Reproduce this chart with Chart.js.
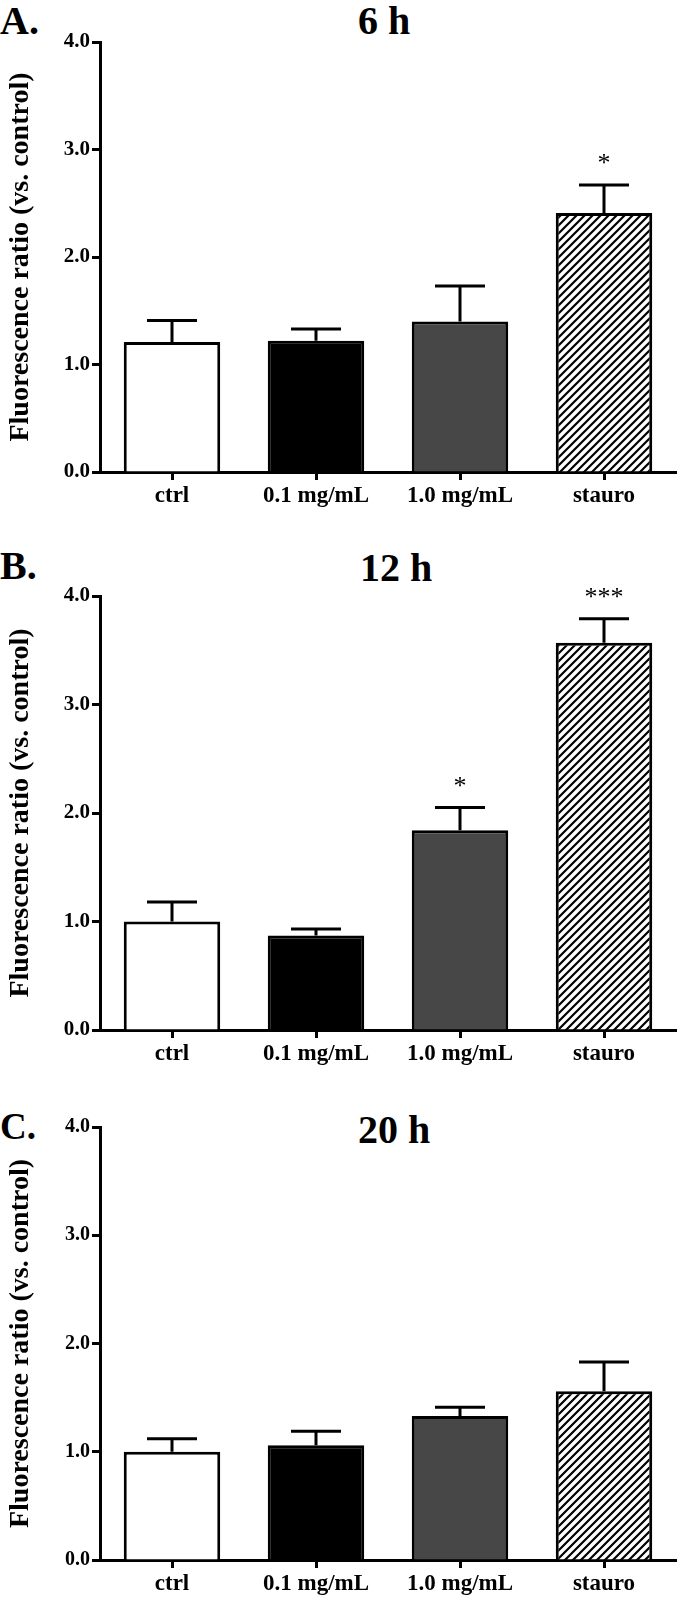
<!DOCTYPE html>
<html>
<head>
<meta charset="utf-8">
<script src="https://cdn.jsdelivr.net/npm/chart.js@4.4.1/dist/chart.umd.min.js"></script>
<style>
  body { margin: 0; background: #fff; width: 680px; height: 1598px; position: relative; overflow: hidden; }
  .panel { position: absolute; left: 0; width: 680px; }
  .lbl { position: absolute; font-family: "Liberation Serif", serif; font-weight: bold; font-size: 40px; line-height: 1; color: #000; white-space: nowrap; }
</style>
</head>
<body>
<div class="lbl" style="left:0px;top:1px;">A.</div>
<div class="lbl" style="left:358px;top:1px;">6 h</div>
<div class="lbl" style="left:0px;top:546px;">B.</div>
<div class="lbl" style="left:360px;top:548px;">12 h</div>
<div class="lbl" style="left:0px;top:1108px;font-size:37px;">C.</div>
<div class="lbl" style="left:358px;top:1110px;">20 h</div>

<div class="panel" style="top:0px;height:540px;"><canvas id="chartA"></canvas></div>
<div class="panel" style="top:540px;height:545px;"><canvas id="chartB"></canvas></div>
<div class="panel" style="top:1085px;height:513px;"><canvas id="chartC"></canvas></div>

<script>
// groups and y ticks
const groups = ['ctrl', '0.1 mg/mL', '1.0 mg/mL', 'stauro'];
const yTicks = [0, 1, 2, 3, 4];

// 6 h
const mean6h = [1.21, 1.22, 1.40, 2.41];
const sem6h = [0.20, 0.11, 0.33, 0.26];
const sig6h = ['', '', '', '*'];

// 12 h
const mean12h = [1.00, 0.87, 1.84, 3.57];
const sem12h = [0.18, 0.06, 0.21, 0.22];
const sig12h = ['', '', '*', '***'];

// 20 h
const mean20h = [1.00, 1.06, 1.33, 1.56];
const sem20h = [0.12, 0.13, 0.08, 0.27];
const sig20h = ['', '', '', ''];

const serif = '"Liberation Serif", "Times New Roman", serif';

function hatch() {
    const c = document.createElement('canvas');
    c.width = 8; c.height = 8;
    const g = c.getContext('2d');
    g.fillStyle = '#fff';
    g.fillRect(0, 0, 8, 8);
    g.strokeStyle = '#000';
    g.lineWidth = 2.2;
    g.beginPath();
    g.moveTo(-2, 10); g.lineTo(10, -2);
    g.moveTo(-2, 2); g.lineTo(2, -2);
    g.moveTo(6, 10); g.lineTo(10, 6);
    g.stroke();
    return g.createPattern(c, 'repeat');
}

// upper error bars + asterisks
const errorBars = {
    id: 'errorBars',
    afterDatasetsDraw(chart, args, opts) {
        const ctx = chart.ctx;
        const y = chart.scales.y;
        const meta = chart.getDatasetMeta(0);
        const vals = chart.data.datasets[0].data;
        ctx.save();
        ctx.strokeStyle = '#000';
        ctx.lineWidth = 3;
        meta.data.forEach((bar, i) => {
            const top = y.getPixelForValue(vals[i]);
            const cap = y.getPixelForValue(vals[i] + opts.err[i]);
            ctx.beginPath();
            ctx.moveTo(bar.x, top);
            ctx.lineTo(bar.x, cap);
            ctx.moveTo(bar.x - 25, cap);
            ctx.lineTo(bar.x + 25, cap);
            ctx.stroke();
            if (opts.sig[i]) {
                ctx.fillStyle = '#000';
                ctx.font = '26px ' + serif;
                ctx.textAlign = 'center';
                ctx.textBaseline = 'alphabetic';
                ctx.fillText(opts.sig[i], bar.x, cap - 14);
            }
        });
        ctx.restore();
    }
};

function makePanel(id, values, errs, sig, p) {
    new Chart(document.getElementById(id), {
        type: 'bar',
        data: {
            labels: groups,
            datasets: [{
                data: values,
                backgroundColor: ['#ffffff', '#000000', '#474747', hatch()],
                borderColor: '#000',
                borderWidth: 3,
                borderSkipped: 'bottom',
                categoryPercentage: 1,
                barPercentage: 0.67
            }]
        },
        options: {
            responsive: true,
            maintainAspectRatio: false,
            animation: false,
            events: [],
            layout: { padding: { top: p.top, right: 4, left: 0, bottom: 0 } },
            plugins: {
                legend: { display: false },
                tooltip: { enabled: false },
                errorBars: { err: errs, sig: sig }
            },
            scales: {
                x: {
                    grid: { display: true, drawOnChartArea: false, offset: false, tickLength: 8, tickWidth: 3, tickColor: '#000' },
                    border: { color: '#000', width: 3 },
                    ticks: { color: '#000', font: { family: serif, weight: 'bold', size: p.xFont }, padding: 2, maxRotation: 0 },
                    afterFit: s => { s.height = p.xh; }
                },
                y: {
                    min: 0, max: 4,
                    afterBuildTicks: s => { s.ticks = yTicks.map(v => ({ value: v })); },
                    grid: { display: true, drawOnChartArea: false, tickLength: 8, tickWidth: 3, tickColor: '#000' },
                    border: { color: '#000', width: 3 },
                    ticks: { color: '#000', font: { family: serif, weight: 'bold', size: p.yFont }, padding: 2, callback: v => v.toFixed(1) },
                    title: { display: true, text: 'Fluorescence ratio (vs. control)', color: '#000', font: { family: serif, weight: 'bold', size: 28 }, padding: { top: 4, bottom: 0 } },
                    afterFit: s => { s.width = 100; }
                }
            }
        },
        plugins: [errorBars]
    });
}

makePanel('chartA', mean6h, sem6h, sig6h, { top: 42, xh: 68, xFont: 23, yFont: 21 });
makePanel('chartB', mean12h, sem12h, sig12h, { top: 56, xh: 55, xFont: 23, yFont: 21 });
makePanel('chartC', mean20h, sem20h, sig20h, { top: 42, xh: 38, xFont: 23, yFont: 20 });
</script>
</body>
</html>
